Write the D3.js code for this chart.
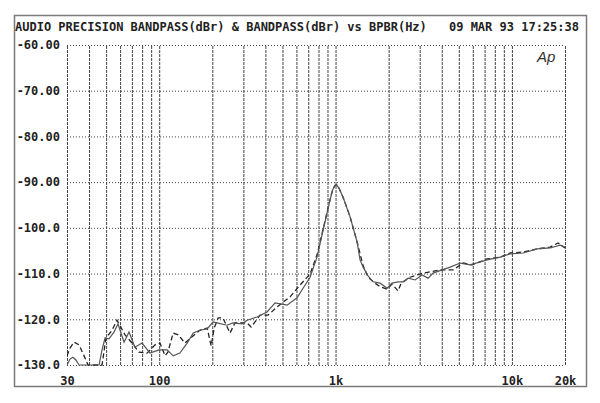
<!DOCTYPE html>
<html>
<head>
<meta charset="utf-8">
<script src="https://cdn.jsdelivr.net/npm/d3@7"></script>
<style>
  body { margin: 0; background: #fff; }
  svg { display: block; }
  .lbl { font-family: "DejaVu Sans Mono", monospace; font-weight: bold; font-size: 12px; fill: #222; }
</style>
</head>
<body>
<svg id="chart" width="600" height="403"></svg>
<script>
// chart text
const titleLeft = "AUDIO PRECISION BANDPASS(dBr) & BANDPASS(dBr) vs BPBR(Hz)";
const titleRight = "09 MAR 93 17:25:38";

// axes
const yTicks = [-60, -70, -80, -90, -100, -110, -120, -130];
const yTickLabels = ["-60.00", "-70.00", "-80.00", "-90.00", "-100.0", "-110.0", "-120.0", "-130.0"];
const xTicks = [30, 100, 1000, 10000, 20000];
const xTickLabels = ["30", "100", "1k", "10k", "20k"];
const xGrid = [30, 40, 50, 60, 70, 80, 90, 100, 200, 300, 400, 500, 600, 700, 800, 900,
               1000, 2000, 3000, 4000, 5000, 6000, 7000, 8000, 9000, 10000, 20000];

// solid trace (Hz, dBr)
const solidFreq = [30, 31.2, 32.4, 33.7, 35.1, 45.6, 47.4, 49.3, 51.9, 55.4, 58.4, 60.7, 63.2, 67.4, 72.9,
  79.9, 88.7, 99.8, 111, 120, 131, 144, 156, 170, 187, 202, 213, 242, 262, 295, 315, 359, 409, 454,
  531, 605, 654, 717, 785, 850, 931, 965, 994, 1015, 1045, 1103, 1209, 1325, 1377, 1433, 1529, 1632, 1789, 1960,
  2092, 2263, 2415, 2579, 2825, 3096, 3347, 3573, 4020, 4462, 5088, 5793, 7235, 8575, 9771, 11577,
  13902, 16475, 18774, 20000];
const solidDb = [-130, -128.7, -128.3, -128.9, -130, -130, -126.7, -124.1, -124.3, -122.8, -121.0, -123.0,
  -125.0, -122.8, -126.1, -125.2, -127.4, -126.7, -126.7, -128.0, -127.4, -125.2, -123.0, -122.4, -122.1,
  -120.6, -120.8, -121.3, -120.8, -121.0, -120.2, -119.5, -118.4, -116.4, -116.9, -115.3, -113.2, -110.8,
  -106.4, -100.5, -93.9, -91.6, -90.7, -90.6, -91.3, -93.3, -97.6, -103.1, -107.0, -108.6, -110.5, -111.8, -112.1,
  -113.2, -112.1, -111.8, -111.8, -111.0, -111.4, -110.3, -111.0, -109.9, -109.2, -108.6, -107.7, -108.1,
  -107.0, -106.4, -105.7, -105.5, -104.6, -104.4, -103.8, -104.2];

// dashed trace (Hz, dBr)
const dashFreq = [30, 31.2, 32.9, 35.1, 37.5, 39.5, 47.4, 49.9, 54.0, 57.6, 64.0, 70.1, 76.8, 85.3, 94.7,
  101, 108, 112, 120, 128, 140, 156, 170, 187, 197, 205, 216, 230, 252, 269, 315, 332, 373, 414, 466,
  552, 629, 717, 785, 850, 931, 965, 994, 1015, 1045, 1103, 1209, 1325, 1433, 1529, 1675, 1789, 1960, 2092, 2263,
  2353, 2647, 3136, 3915, 4640, 5290, 5950, 7235, 8575, 9771, 11577, 13902, 16475, 18285, 20000];
const dashDb = [-128.0, -126.3, -125.0, -125.6, -128.0, -130, -130, -124.1, -122.4, -120.2, -123.4, -125.2,
  -127.2, -127.4, -125.6, -125.2, -128.0, -127.2, -123.0, -123.4, -125.2, -123.6, -122.4, -121.9, -125.8,
  -121.9, -119.7, -119.7, -123.0, -120.8, -120.8, -121.7, -119.1, -119.1, -117.3, -115.1, -112.5, -110.1,
  -105.9, -100.3, -93.7, -91.5, -90.7, -90.6, -91.3, -93.3, -97.6, -103.1, -108.3, -110.8, -112.1, -112.9, -113.4,
  -112.3, -113.8, -112.1, -110.8, -109.9, -109.2, -109.2, -107.7, -108.1, -106.8, -106.4, -105.5, -105.3,
  -104.6, -104.2, -103.3, -104.4];

const margin = {top: 45, right: 35, bottom: 38, left: 67};
const width = 600 - margin.left - margin.right;
const height = 403 - margin.top - margin.bottom;

const svg = d3.select("#chart");

// outer frame
svg.append("rect")
    .attr("x", 14.5).attr("y", 15.5)
    .attr("width", 572).attr("height", 371)
    .attr("fill", "none")
    .attr("stroke", "#7a7a7a")
    .attr("stroke-width", 1.5);

svg.append("text").attr("class", "lbl")
    .attr("x", 15).attr("y", 31)
    .text(titleLeft);
svg.append("text").attr("class", "lbl")
    .attr("x", 579).attr("y", 31)
    .attr("text-anchor", "end")
    .text(titleRight);

const g = svg.append("g").attr("transform", `translate(${margin.left},${margin.top})`);

const x = d3.scaleLog().domain([30, 20000]).range([0, width]);
const y = d3.scaleLinear().domain([-130, -60]).range([height, 0]);

// horizontal grid (dotted)
g.append("g")
    .call(d3.axisLeft(y).tickValues(yTicks).tickSize(-width).tickFormat(""))
    .call(s => s.select(".domain").remove())
    .selectAll("line")
    .attr("stroke", "#444")
    .attr("stroke-dasharray", "1,2");

// vertical grid (dashed)
g.append("g")
    .attr("transform", `translate(0,${height})`)
    .call(d3.axisBottom(x).tickValues(xGrid).tickSize(-height).tickFormat(""))
    .call(s => s.select(".domain").remove())
    .selectAll("line")
    .attr("stroke", "#444")
    .attr("stroke-dasharray", "3,1");

// tick labels
g.append("g")
    .call(d3.axisLeft(y).tickValues(yTicks).tickSize(0).tickPadding(7)
        .tickFormat((d, i) => yTickLabels[i]))
    .call(s => s.select(".domain").remove())
    .selectAll("text").attr("class", "lbl");

g.append("g")
    .attr("transform", `translate(0,${height})`)
    .call(d3.axisBottom(x).tickValues(xTicks).tickSize(0).tickPadding(11)
        .tickFormat((d, i) => xTickLabels[i]))
    .call(s => s.select(".domain").remove())
    .selectAll("text").attr("class", "lbl");

// Ap logo
g.append("text")
    .attr("x", width - 28).attr("y", 17)
    .attr("font-family", "Liberation Sans, sans-serif")
    .attr("font-style", "italic")
    .attr("font-size", 15)
    .attr("fill", "#333")
    .text("Ap");

g.append("clipPath").attr("id", "plotclip")
  .append("rect").attr("x", 0).attr("y", -1).attr("width", width).attr("height", height + 2);

const line = d3.line()
    .x(d => x(d[0]))
    .y(d => y(d[1]));

const solid = solidFreq.map((f, i) => [f, solidDb[i]]);
const dashed = dashFreq.map((f, i) => [f, dashDb[i]]);

g.append("path")
    .datum(dashed)
    .attr("clip-path", "url(#plotclip)")
    .attr("fill", "none")
    .attr("stroke", "#222")
    .attr("stroke-width", 1.3)
    .attr("stroke-dasharray", "5,3")
    .attr("d", line);

g.append("path")
    .datum(solid)
    .attr("clip-path", "url(#plotclip)")
    .attr("fill", "none")
    .attr("stroke", "#555")
    .attr("stroke-width", 1.2)
    .attr("d", line);
</script>
</body>
</html>
